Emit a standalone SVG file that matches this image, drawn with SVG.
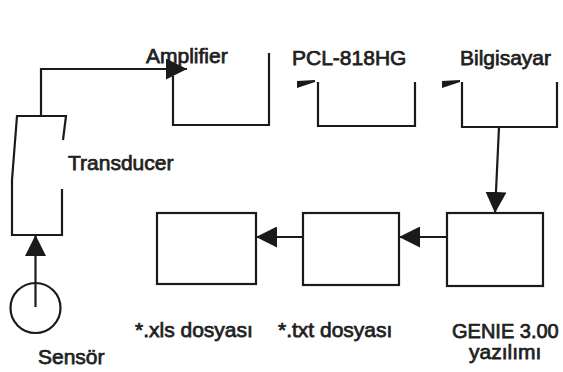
<svg xmlns="http://www.w3.org/2000/svg" width="563" height="372" viewBox="0 0 563 372">
<defs>
<style>
.ln{fill:none;stroke:#1a1a1a;stroke-width:2.2;stroke-linejoin:miter}
.bx{fill:#fff;stroke:#1a1a1a;stroke-width:2.2}
.tx{font-family:"Liberation Sans",Arial,sans-serif;font-size:21px;fill:#1f1f1f;stroke:#1f1f1f;stroke-width:0.75}
.wd{fill:#1a1a1a}
</style>
<marker id="ah" markerUnits="userSpaceOnUse" markerWidth="21" markerHeight="21" viewBox="0 0 21 21" refX="21" refY="10.5" orient="auto">
<path d="M0,0 L21,10.5 L0,21 z" fill="#1a1a1a"/>
</marker>
</defs>
<rect width="563" height="372" fill="#fff"/>
<g id="connectors">
<polyline class="ln" points="41,117 41,69 187,69" marker-end="url(#ah)"/>
<line class="ln" x1="35.5" y1="307" x2="35.5" y2="235" marker-end="url(#ah)"/>
<line class="ln" x1="499" y1="127" x2="495" y2="213" marker-end="url(#ah)"/>
<line class="ln" x1="447" y1="237" x2="399" y2="237" marker-end="url(#ah)"/>
<line class="ln" x1="303" y1="237" x2="256" y2="237" marker-end="url(#ah)"/>
<polygon class="wd" points="297,81 315,80 315,82 297,88"/>
<polygon class="wd" points="442,81 460,80 460,82 442,88"/>
</g>
<g id="transducer">
<path class="ln" d="M63,140 L66,116 L17,116 L12,180 L12,235 L62,235 L62,189"/>
<text class="tx" x="68" y="170">Transducer</text>
</g>
<g id="sensor">
<circle cx="35.5" cy="308" r="25" fill="none" stroke="#1a1a1a" stroke-width="2.2"/>
<text class="tx" x="38" y="364">Sensör</text>
</g>
<g id="amplifier">
<path class="ln" d="M173,76 L173,125 L269,125 L269,53"/>
<text class="tx" x="146" y="63">Amplifier</text>
</g>
<g id="pcl">
<path class="ln" d="M318,82 L318,126 L415,126 L415,82"/>
<text class="tx" x="292" y="65">PCL-818HG</text>
</g>
<g id="bilgisayar">
<path class="ln" d="M462,82 L462,127 L557,127 L557,82"/>
<text class="tx" x="460" y="65">Bilgisayar</text>
</g>
<g id="genie">
<rect class="bx" x="447" y="213" width="96" height="73"/>
<text class="tx" x="452" y="338" style="font-size:20px">GENIE 3.00</text>
<text class="tx" x="469" y="359">yazılımı</text>
</g>
<g id="txt">
<rect class="bx" x="303" y="213" width="96" height="72"/>
<text class="tx" x="278" y="337">*.txt dosyası</text>
</g>
<g id="xls">
<rect class="bx" x="157" y="213" width="99" height="71"/>
<text class="tx" x="135" y="337">*.xls dosyası</text>
</g>
</svg>
